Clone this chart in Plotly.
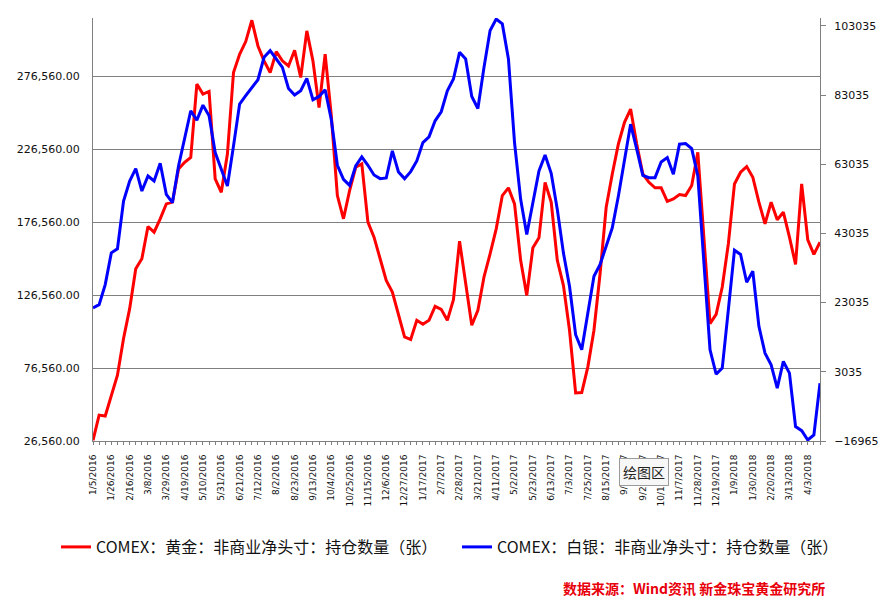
import pandas as pd
import plotly.graph_objects as go

# Weekly report dates (CFTC, Tuesdays; 7/4/2017 holiday moved to 7/3/2017)
dates = [f"{d.month}/{d.day}/{d.year}" for d in pd.date_range("2016-01-05", periods=120, freq="7D")]
dates = ["7/3/2017" if s == "7/4/2017" else s for s in dates]
tick_labels = [s if i % 3 == 0 else "" for i, s in enumerate(dates)]

gold_net = [
    27000, 44300, 43700, 58000, 71700, 96800, 117300, 144700, 151500, 173600,
    169700, 178900, 189100, 190300, 213000, 217600, 221000, 271200, 264400, 266200,
    206200, 197100, 223300, 279200, 291700, 300400, 315000, 297400, 287200, 279200,
    293500, 287200, 283700, 294400, 275800, 307700, 287200, 255200, 291700, 250000,
    194800, 178900, 198200, 214200, 216500, 176600, 166300, 151500, 136700, 128700,
    113900, 97900, 96100, 109300, 106600, 109300, 118900, 116800, 109300, 123500,
    163600, 134400, 105900, 116200, 139000, 154900, 172000, 194800, 200100, 189100,
    150400, 126400, 159000, 165900, 203900, 190300, 150400, 133300, 102500, 59500,
    59800, 77400, 102500, 141200, 186800, 209600, 230200, 245000, 254100, 230200,
    209600, 203900, 200100, 200100, 190900, 192500, 195500, 194800, 201700, 224500,
    166300, 107000, 113400, 132100, 161800, 202800, 210800, 214700, 207400, 190300,
    175400, 190300, 178200, 183400, 166300, 147600, 202800, 164500, 154500, 162900,
]

silver_net = [
    21480, 22450, 28250, 37420, 38580, 52400, 58190, 61760, 55290, 59640,
    58190, 63310, 54320, 51910, 62540, 70750, 78480, 75770, 80120, 77030,
    66400, 61570, 56740, 68340, 80410, 82830, 85240, 87460, 93930, 95860,
    93450, 91030, 84950, 83020, 84270, 87850, 81670, 82630, 84560, 76000,
    62730, 58670, 56930, 62540, 65150, 62730, 59930, 58870, 59060, 66880,
    60800, 58870, 60900, 63990, 69300, 70940, 75580, 78190, 84270, 87650,
    95380, 93450, 82630, 79150, 91030, 101660, 105000, 103590, 93450, 69300,
    52880, 42740, 51910, 61090, 65720, 60410, 49980, 37420, 27760, 13760,
    9410, 19550, 30660, 34040, 39350, 44660, 53850, 64470, 74610, 67370,
    59830, 59160, 59160, 63700, 64950, 60120, 68810, 69010, 67560, 59640,
    34520, 9410, 2360, 4090, 21000, 38190, 36940, 28920, 32110, 16170,
    8440, 5060, -1700, 6030, 2650, -12810, -13970, -16670, -15230, -250,
]

gold_name = "COMEX：黄金：非商业净头寸：持仓数量（张）"
silver_name = "COMEX：白银：非商业净头寸：持仓数量（张）"
source_text = "数据来源：Wind资讯 新金珠宝黄金研究所"
tooltip_text = "绘图区"

W, H = 886, 610
L, R, T, B = 93, 820, 18, 441
pw, ph = R - L, B - T

def px_x(x):
    return (x - L) / pw

def px_y(y):
    return (B - y) / ph

def cx(x):
    return x / W

def cy(y):
    return 1 - y / H

fig = go.Figure()
fig.add_trace(go.Scatter(x=dates, y=gold_net, name=gold_name, mode="lines",
                         line=dict(color="#ff0000", width=3), yaxis="y", legend="legend"))
fig.add_trace(go.Scatter(x=dates, y=silver_net, name=silver_name, mode="lines",
                         line=dict(color="#0000ff", width=3), yaxis="y2", legend="legend2"))

axis_gray = "#808080"
tick_font = dict(family="DejaVu Sans", size=11, color="#111111")
legend_font = dict(family="Noto Sans CJK SC", size=16, color="#111111")

fig.update_layout(
    width=W, height=H, showlegend=True,
    margin=dict(l=L, r=W - R, t=T, b=H - B, pad=0, autoexpand=False),
    paper_bgcolor="white", plot_bgcolor="white",
    xaxis=dict(type="category", range=[0, len(dates) - 1], automargin=False,
               tickmode="array", tickvals=dates, ticktext=tick_labels,
               tickangle=-90, ticks="outside", ticklen=3, tickcolor=axis_gray,
               showline=True, linecolor=axis_gray, linewidth=1, showgrid=False,
               tickfont=dict(family="DejaVu Sans", size=9, color="#111111"),
               ticklabelstandoff=6),
    yaxis=dict(range=[26560, 316560], tick0=26560, dtick=50000, tickformat=",.2f",
               automargin=False,
               showgrid=True, gridcolor=axis_gray, gridwidth=1,
               showline=True, linecolor=axis_gray, linewidth=1, ticks="",
               zeroline=False, tickfont=tick_font, ticklabelstandoff=10),
    yaxis2=dict(overlaying="y", side="right", range=[-16965, 105300], tick0=-16965, dtick=20000,
                automargin=False,
                tickformat="d", showgrid=False, zeroline=False,
                showline=True, linecolor=axis_gray, linewidth=1,
                ticks="outside", ticklen=5, tickcolor=axis_gray,
                tickfont=tick_font, ticklabelstandoff=6),
    legend=dict(xref="container", yref="container", x=cx(56), y=cy(547),
                xanchor="left", yanchor="middle",
                orientation="h", font=legend_font, bgcolor="rgba(0,0,0,0)", itemwidth=30),
    legend2=dict(xref="container", yref="container", x=cx(457), y=cy(547),
                 xanchor="left", yanchor="middle",
                 orientation="h", font=legend_font, bgcolor="rgba(0,0,0,0)", itemwidth=30),
    annotations=[
        dict(text=f"<b>{source_text}</b>", xref="paper", yref="paper",
             x=px_x(827), y=px_y(588), xanchor="right", yanchor="middle", showarrow=False,
             font=dict(family="Noto Sans CJK SC", size=14, color="#e8000b")),
        dict(text=tooltip_text, xref="paper", yref="paper",
             x=px_x(644), y=px_y(472), xanchor="center", yanchor="middle", showarrow=False,
             font=dict(family="Noto Sans CJK SC", size=14, color="#222222"),
             bgcolor="#f7f7f7", bordercolor="#9a9a9a", borderwidth=1, borderpad=3),
    ],
)

fig.write_html(
    "out.html",
    config={"displayModeBar": False},
    post_script="document.body.style.margin='0';document.body.style.overflow='hidden';",
)
